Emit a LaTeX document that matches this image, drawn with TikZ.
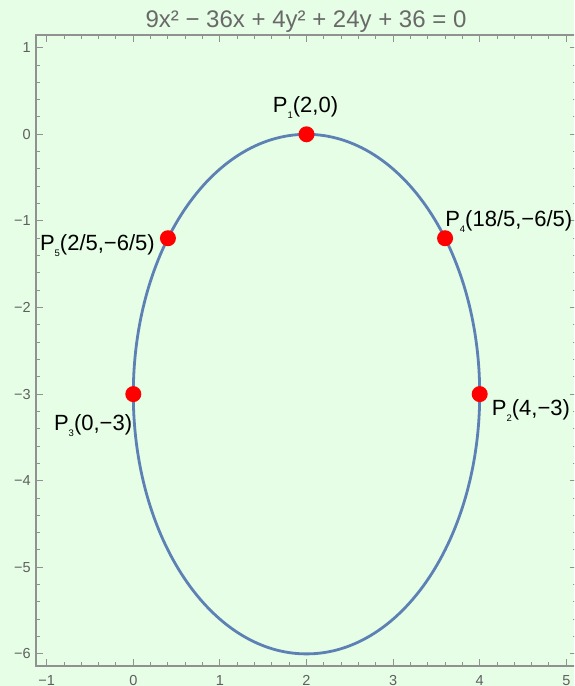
\documentclass[tikz,border=0pt]{standalone}
\usepackage{fontspec}
\setmainfont{Liberation Sans}
\definecolor{bgc}{RGB}{230,253,230}
\definecolor{curvec}{RGB}{94,129,181}
\definecolor{framec}{RGB}{145,145,145}
\definecolor{tickc}{RGB}{95,95,95}
\definecolor{titlec}{RGB}{105,105,105}
\begin{document}
\begin{tikzpicture}[x=86.6pt,y=86.6pt,
  framestyle/.style={draw=framec,line width=1.3pt},
  tickstyle/.style={draw=framec,line width=1pt},
  ticklabel/.style={inner sep=0pt,text=tickc,font=\fontsize{14.5}{16}\selectfont},
  ptlabel/.style={inner sep=0pt,font=\fontsize{22}{26}\selectfont},
  dot/.style={circle,fill=red,inner sep=0pt,minimum size=16pt}]
\def\xl{-1.124}\def\xr{5.124}\def\yb{-6.14}\def\yt{1.147}
\useasboundingbox (-1.5393,-6.3707) rectangle (5.0889,1.5508);
\fill[bgc] (-1.5393,-6.3707) rectangle (5.0889,1.5508);
\begin{scope}
\clip (-1.5393,-6.3707) rectangle (5.0889,1.5508);
\draw[framestyle] (\xl,\yb) rectangle (\xr,\yt);
% x ticks
\foreach \k in {-5,...,25}{
  \pgfmathsetmacro\xx{\k/5}
  \draw[tickstyle] (\xx,\yb) -- ++(0,4pt);
  \draw[tickstyle] (\xx,\yt) -- ++(0,-4pt);
}
\foreach \k in {-1,...,5}{
  \draw[tickstyle] (\k,\yb) -- ++(0,7pt);
  \draw[tickstyle] (\k,\yt) -- ++(0,-7pt);
}
% y ticks
\foreach \k in {-30,...,5}{
  \pgfmathsetmacro\yy{\k/5}
  \draw[tickstyle] (\xl,\yy) -- ++(4pt,0);
  \draw[tickstyle] (\xr,\yy) -- ++(-4pt,0);
}
\foreach \k in {-6,...,1}{
  \draw[tickstyle] (\xl,\k) -- ++(7pt,0);
  \draw[tickstyle] (\xr,\k) -- ++(-7pt,0);
}
\end{scope}
% tick labels
\foreach \v/\t in {-1/−1,0/0,1/1,2/2,3/3,4/4,5/5}{
  \node[ticklabel,anchor=base] (xl\v) at ([yshift=-19.5pt]\v,\yb) {\t};
}
\foreach \v/\t in {-6/−6,-5/−5,-4/−4,-3/−3,-2/−2,-1/−1,0/0,1/1}{
  \node[ticklabel,anchor=base east] (yl\v) at ([xshift=-5pt,yshift=-5pt]\xl,\v) {\t};
}
% title
\node[inner sep=0pt,anchor=base,text=titlec,font=\fontsize{24}{28}\selectfont] (title) at (1.994,1.2275) {9x² − 36x + 4y² + 24y + 36 = 0};
% ellipse
\draw[curvec,line width=2.8pt] (2,-3) ellipse [x radius=2,y radius=3];
% points
\node[dot] (p1) at (2,0) {};
\node[dot] (p2) at (4,-3) {};
\node[dot] (p3) at (0,-3) {};
\node[dot] (p4) at (3.6,-1.2) {};
\node[dot] (p5) at (0.4,-1.2) {};
\newcommand\sbx[1]{\raisebox{-6pt}{\fontsize{9.5}{10}\selectfont #1}}
\node[ptlabel,anchor=base] (l1) at ([xshift=-1pt,yshift=22pt]p1.center) {P\sbx{1}(2,0)};
\node[ptlabel,anchor=base west] (l4) at ([yshift=12pt]p4.center) {P\sbx{4}(18/5,−6/5)};
\node[ptlabel,anchor=base west] (l2) at ([xshift=12pt,yshift=-21pt]p2.center) {P\sbx{2}(4,−3)};
\node[ptlabel,anchor=base east] (l5) at ([xshift=-13pt,yshift=-12pt]p5.center) {P\sbx{5}(2/5,−6/5)};
\node[ptlabel,anchor=base east] (l3) at ([xshift=-1pt,yshift=-36pt]p3.center) {P\sbx{3}(0,−3)};
\end{tikzpicture}
\end{document}
